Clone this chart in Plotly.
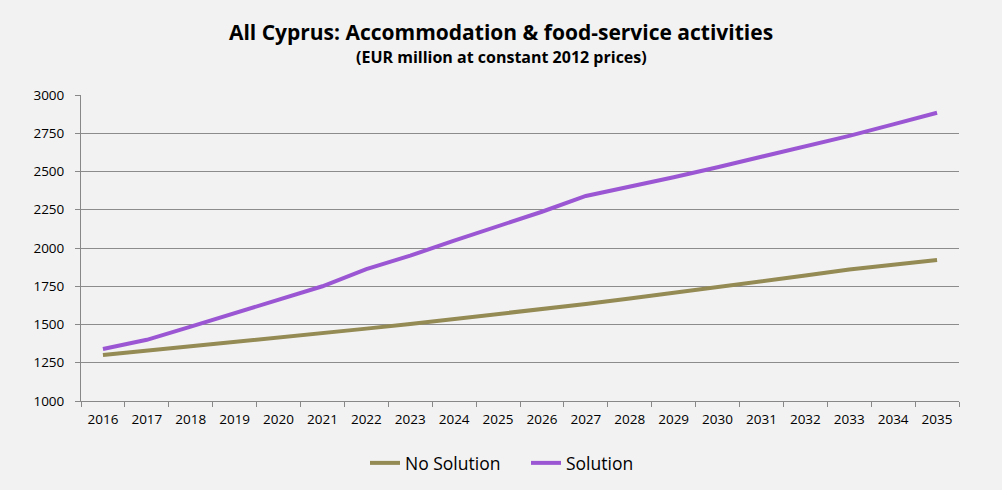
import plotly.graph_objects as go

years = [str(y) for y in range(2016, 2036)]
no_solution = [1300, 1328, 1356, 1386, 1414, 1443, 1473, 1503, 1535, 1567,
               1600, 1634, 1670, 1706, 1743, 1781, 1820, 1860, 1890, 1922]
solution = [1340, 1400, 1486, 1573, 1660, 1750, 1862, 1950, 2048, 2140,
            2237, 2340, 2398, 2462, 2528, 2595, 2663, 2733, 2808, 2884]

title_text = "All Cyprus: Accommodation & food-service activities"
subtitle_text = "(EUR million at constant 2012 prices)"
y_ticks = [1000, 1250, 1500, 1750, 2000, 2250, 2500, 2750, 3000]

font_fam = "Open Sans, Lato, sans-serif"

fig = go.Figure()
fig.add_trace(go.Scatter(x=years, y=no_solution, mode="lines", name="No Solution",
                         line=dict(color="#948A54", width=4)))
fig.add_trace(go.Scatter(x=years, y=solution, mode="lines", name="Solution",
                         line=dict(color="#9B57D3", width=4)))

fig.update_layout(
    width=1002, height=490,
    paper_bgcolor="#F2F2F2", plot_bgcolor="#F2F2F2",
    margin=dict(l=81, r=43, t=95, b=89, autoexpand=False),
    font=dict(family=font_fam, color="#000000", size=13),
    title=dict(text=f"<b>{title_text}</b>",
               x=0.5, xanchor="center", xref="container", yref="container",
               y=1 - 33 / 490, yanchor="middle",
               font=dict(size=21, family=font_fam)),
    annotations=[dict(text=f"<b>{subtitle_text}</b>", xref="paper", yref="paper",
                      x=(501 - 81) / 878, xanchor="center", y=(401 - 57) / 306, yanchor="middle",
                      showarrow=False, font=dict(size=16, family=font_fam))],
    showlegend=True,
    legend=dict(orientation="h", x=(365 - 81) / 878, xanchor="left",
                y=(401 - 463) / 306, yanchor="middle",
                entrywidth=116, entrywidthmode="pixels",
                font=dict(size=17.5, family=font_fam), bgcolor="rgba(0,0,0,0)",
                tracegroupgap=0),
    hovermode=False,
)
fig.update_xaxes(type="category", tickson="boundaries", ticks="outside", ticklen=5,
                 tickcolor="#888888", showline=True, linecolor="#888888", linewidth=1,
                 showgrid=False, tickfont=dict(size=13.5), range=[-0.5, 19.5],
                 ticklabelstandoff=6, automargin=False)
fig.update_yaxes(range=[1000, 3000], tickvals=y_ticks, ticks="outside", ticklen=5,
                 tickcolor="#888888", showline=True, linecolor="#888888", linewidth=1,
                 showgrid=True, gridcolor="#8C8C8C", gridwidth=1, zeroline=False,
                 tickfont=dict(size=13.5), ticklabelstandoff=8, automargin=False)

fig.write_html("out.html", config={"displayModeBar": False},
               post_script="document.body.style.margin='0';document.body.style.background='#F2F2F2';")
